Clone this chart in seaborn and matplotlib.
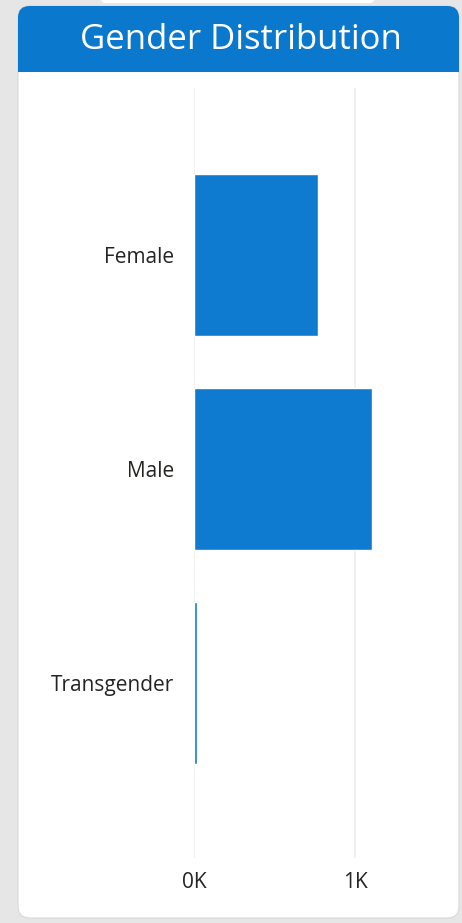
import matplotlib
matplotlib.use("Agg")
import matplotlib.pyplot as plt
from matplotlib.patches import FancyBboxPatch, Rectangle
import seaborn as sns

genders = ["Female", "Male", "Transgender"]
counts = [770, 1105, 20]
tick_vals = [0, 1000]
tick_labels = ["0K", "1K"]
title = "Gender Distribution"

W, H = 462, 923
blue = "#0a78cc"

sns.set_style("white")
plt.rcParams["font.family"] = ["Open Sans", "DejaVu Sans"]

fig = plt.figure(figsize=(W / 100, H / 100), dpi=100)
fig.patch.set_facecolor("#e6e6e6")

def fx(px):
    return px / W

def fy(py):
    return 1 - py / H

def add_patch(p):
    p.set_zorder(-5)
    fig.patches.append(p)

# card behind the chart
add_patch(FancyBboxPatch((fx(18), fy(918)), fx(441), (918 - 6) / H,
                         boxstyle="round,pad=0,rounding_size=0.025",
                         transform=fig.transFigure, facecolor="white",
                         edgecolor="#d8d8d8", linewidth=0.8,
                         mutation_aspect=W / H))
# blue header: rounded top, square bottom
add_patch(FancyBboxPatch((fx(18), fy(60)), fx(441), (60 - 6) / H,
                         boxstyle="round,pad=0,rounding_size=0.025",
                         transform=fig.transFigure, facecolor=blue,
                         edgecolor="none", mutation_aspect=W / H))
add_patch(Rectangle((fx(18), fy(72)), fx(441), 40 / H,
                    transform=fig.transFigure,
                    facecolor=blue, edgecolor="none"))
# a bit of the card above
add_patch(FancyBboxPatch((fx(100), fy(3)), fx(275), 10 / H,
                         boxstyle="round,pad=0,rounding_size=0.01",
                         transform=fig.transFigure,
                         facecolor="white", edgecolor="none"))

fig.text(fx(241), fy(40), title, color="white", fontsize=25,
         ha="center", va="center")

ax = fig.add_axes([fx(194), fy(858), fx(440 - 194), (858 - 88) / H])
ax.set_zorder(2)
ax.set_facecolor("none")
sns.barplot(x=counts, y=genders, orient="h", color="#0f7bd0",
            width=0.757, saturation=1, ax=ax)
ax.set_xlim(0, (440 - 194) / 161 * 1000)
ax.set_ylim(2.82, -0.78)
ax.set_xticks(tick_vals)
ax.set_xticklabels(tick_labels)
ax.grid(axis="x", color="#eeeeee", linewidth=1.2)
ax.set_axisbelow(True)
for s in ax.spines.values():
    s.set_visible(False)
ax.tick_params(axis="both", length=0, labelsize=15, colors="#252423")
ax.tick_params(axis="y", pad=14)
ax.tick_params(axis="x", pad=10)
ax.set_xlabel("")
ax.set_ylabel("")

fig.savefig("out.png", dpi=100)
